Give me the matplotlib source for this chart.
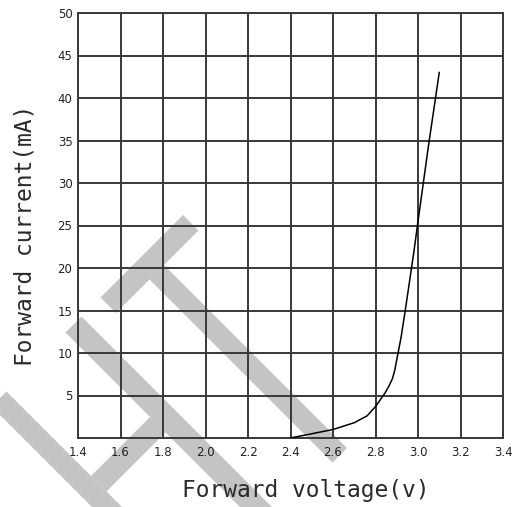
import numpy as np
from matplotlib import pyplot as plt
from matplotlib.patches import Polygon

# forward voltage (V) vs forward current (mA)
voltage = [2.40, 2.50, 2.60, 2.70, 2.76, 2.80, 2.845, 2.865, 2.88, 2.89, 2.90,
           2.92, 2.94, 2.96, 2.98, 3.00, 3.05, 3.10]
current = [0.0, 0.5, 1.0, 1.8, 2.6, 3.7, 5.3, 6.2, 7.0, 7.9, 9.2,
           11.8, 15.0, 18.4, 21.8, 25.5, 34.5, 43.0]

x_ticks = [1.4, 1.6, 1.8, 2.0, 2.2, 2.4, 2.6, 2.8, 3.0, 3.2, 3.4]
y_ticks = [5, 10, 15, 20, 25, 30, 35, 40, 45, 50]

# "HT" watermark strokes, as (u0, u1, w0, w1) in u=x+y, w=y-x pixel frame
watermark = [
    (398, 795, 385, 415),
    (398, 795, 235, 267),
    (567, 598, 267, 385),
    (398, 429, 32, 197),
    (429, 795, 101, 130),
]

fig = plt.figure(figsize=(5.2, 5.07), dpi=100)

wm = fig.add_axes([0, 0, 1, 1], zorder=0)
wm.set_xlim(0, 520)
wm.set_ylim(507, 0)
wm.axis('off')
for u0, u1, w0, w1 in watermark:
    pts = [((u - w) / 2, (u + w) / 2) for u, w in [(u0, w0), (u1, w0), (u1, w1), (u0, w1)]]
    wm.add_patch(Polygon(pts, closed=True, facecolor='#c4c4c4', edgecolor='none'))

ax = fig.add_axes([78 / 520, 69 / 507, 425 / 520, 425 / 507], zorder=1)
ax.set_facecolor('none')

ax.plot(voltage, current, color='black', linewidth=1.1, zorder=3)

ax.set_xlim(1.4, 3.4)
ax.set_ylim(0, 50)
ax.set_xticks(x_ticks)
ax.set_xticklabels(['%.1f' % v for v in x_ticks])
ax.set_yticks(y_ticks)
ax.set_yticklabels([str(v) for v in y_ticks])
ax.grid(True, color='#383838', linewidth=1.4)
ax.set_axisbelow(False)
for s in ax.spines.values():
    s.set_color('#383838')
    s.set_linewidth(1.4)
ax.tick_params(length=0, labelsize=8.5, colors='#222222')
ax.tick_params(axis='x', pad=6)
ax.tick_params(axis='y', pad=4)

ax.set_xlabel('Forward voltage(v)', family='DejaVu Sans Mono', fontsize=16.5,
              color='#2a2a2a', va='center')
ax.xaxis.set_label_coords((306 - 78) / 425, (438 - 490) / 425)
ax.set_ylabel('Forward current(mA)', family='DejaVu Sans Mono', fontsize=16.5,
              color='#2a2a2a', va='center')
ax.yaxis.set_label_coords((25 - 78) / 425, (438 - 235) / 425)

fig.savefig('out.png', dpi=100)
